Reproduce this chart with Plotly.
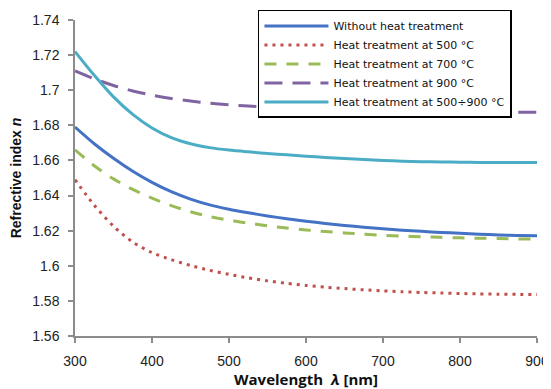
import plotly.graph_objects as go

wavelength = [300, 325, 350, 375, 400, 425, 450, 475, 500, 525, 550, 575, 600,
              625, 650, 675, 700, 725, 750, 775, 800, 825, 850, 875, 900]
n_without = [1.679, 1.6695, 1.6612, 1.6538, 1.6475, 1.6422, 1.638, 1.6347, 1.6322, 1.6302, 1.6284, 1.6268, 1.6254,
             1.6241, 1.623, 1.622, 1.6211, 1.6203, 1.6196, 1.619, 1.6185, 1.618, 1.6176, 1.6173, 1.6171]
n_500 = [1.649, 1.6345, 1.6225, 1.6135, 1.6075, 1.6035, 1.6002, 1.5974, 1.5951, 1.5931, 1.5914, 1.59, 1.5888,
         1.5878, 1.587, 1.5863, 1.5857, 1.5852, 1.5848, 1.5845, 1.5842, 1.584, 1.5838, 1.5837, 1.5836]
n_700 = [1.666, 1.657, 1.6495, 1.6435, 1.6385, 1.6343, 1.6308, 1.628, 1.626, 1.6243, 1.6228, 1.6215, 1.6204,
         1.6195, 1.6187, 1.618, 1.6174, 1.6169, 1.6165, 1.6162, 1.6159, 1.6157, 1.6155, 1.6153, 1.6152]
n_900 = [1.711, 1.7065, 1.7027, 1.6996, 1.6972, 1.6953, 1.6938, 1.6926, 1.6917, 1.691, 1.6904, 1.6899, 1.6895,
         1.6891, 1.6888, 1.6886, 1.6884, 1.6882, 1.688, 1.6879, 1.6878, 1.6877, 1.6876, 1.6875, 1.6874]
n_500_900 = [1.722, 1.7085, 1.6962, 1.6862, 1.6785, 1.673, 1.6695, 1.6673, 1.6659, 1.6649, 1.664, 1.6632, 1.6624,
             1.6617, 1.6611, 1.6605, 1.66, 1.6596, 1.6593, 1.6591, 1.659, 1.6589, 1.6589, 1.6588, 1.6588]

series_names = ["Without heat treatment", "Heat treatment at 500 °C", "Heat treatment at 700 °C",
                "Heat treatment at 900 °C", "Heat treatment at 500÷900 °C"]
series_values = [n_without, n_500, n_700, n_900, n_500_900]
colors = ["#4472C4", "#C0504D", "#9BBB59", "#8064A2", "#4BACC6"]
dashes = ["solid", "3px,5px", "12px,10px", "18px,10px", "solid"]

y_ticks = [1.56, 1.58, 1.6, 1.62, 1.64, 1.66, 1.68, 1.7, 1.72, 1.74]
y_ticktext = ["1.56", "1.58", "1.6", "1.62", "1.64", "1.66", "1.68", "1.7", "1.72", "1.74"]
x_ticks = [300, 400, 500, 600, 700, 800, 900]

fig = go.Figure()
for name, vals, c, d in zip(series_names, series_values, colors, dashes):
    fig.add_trace(go.Scatter(x=wavelength, y=vals, name=name, mode="lines",
                             line=dict(color=c, width=3, dash=d, shape="spline", smoothing=0.8)))

axis_common = dict(showgrid=False, zeroline=False, showline=True, linecolor="#8c8c8c", linewidth=1.5,
                   ticks="outside", tickcolor="#8c8c8c", ticklen=5, tickwidth=1.5, automargin=False,
                   tickfont=dict(family="Liberation Sans, Arial", size=14, color="#222"))

# page body has an 8px default margin, so the figure is sized/offset to compensate
fig.update_layout(
    width=543, height=381,
    margin=dict(l=67, r=14, t=12, b=53, autoexpand=False),
    paper_bgcolor="white", plot_bgcolor="white",
    xaxis=dict(range=[300, 900], tickvals=x_ticks, ticklabelstandoff=6, title=dict(
        text="<b>Wavelength  <i>λ</i> [nm]</b>", font=dict(family="Open Sans", size=15, color="#111"), standoff=4),
        **axis_common),
    yaxis=dict(range=[1.56, 1.74], tickvals=y_ticks, ticktext=y_ticktext, ticklabelstandoff=6, title=dict(
        text="<b>Refrective index <i>n</i></b>", font=dict(family="Liberation Sans, Arial", size=14, color="#111"),
        standoff=15),
        **axis_common),
    legend=dict(x=0.396, y=1.032, xanchor="left", yanchor="top",
                bordercolor="black", borderwidth=1.5,
                bgcolor="white", font=dict(family="DejaVu Sans", size=11, color="#111"),
                itemwidth=64, tracegroupgap=0),
    showlegend=True,
)

fig.write_html("out.html")
